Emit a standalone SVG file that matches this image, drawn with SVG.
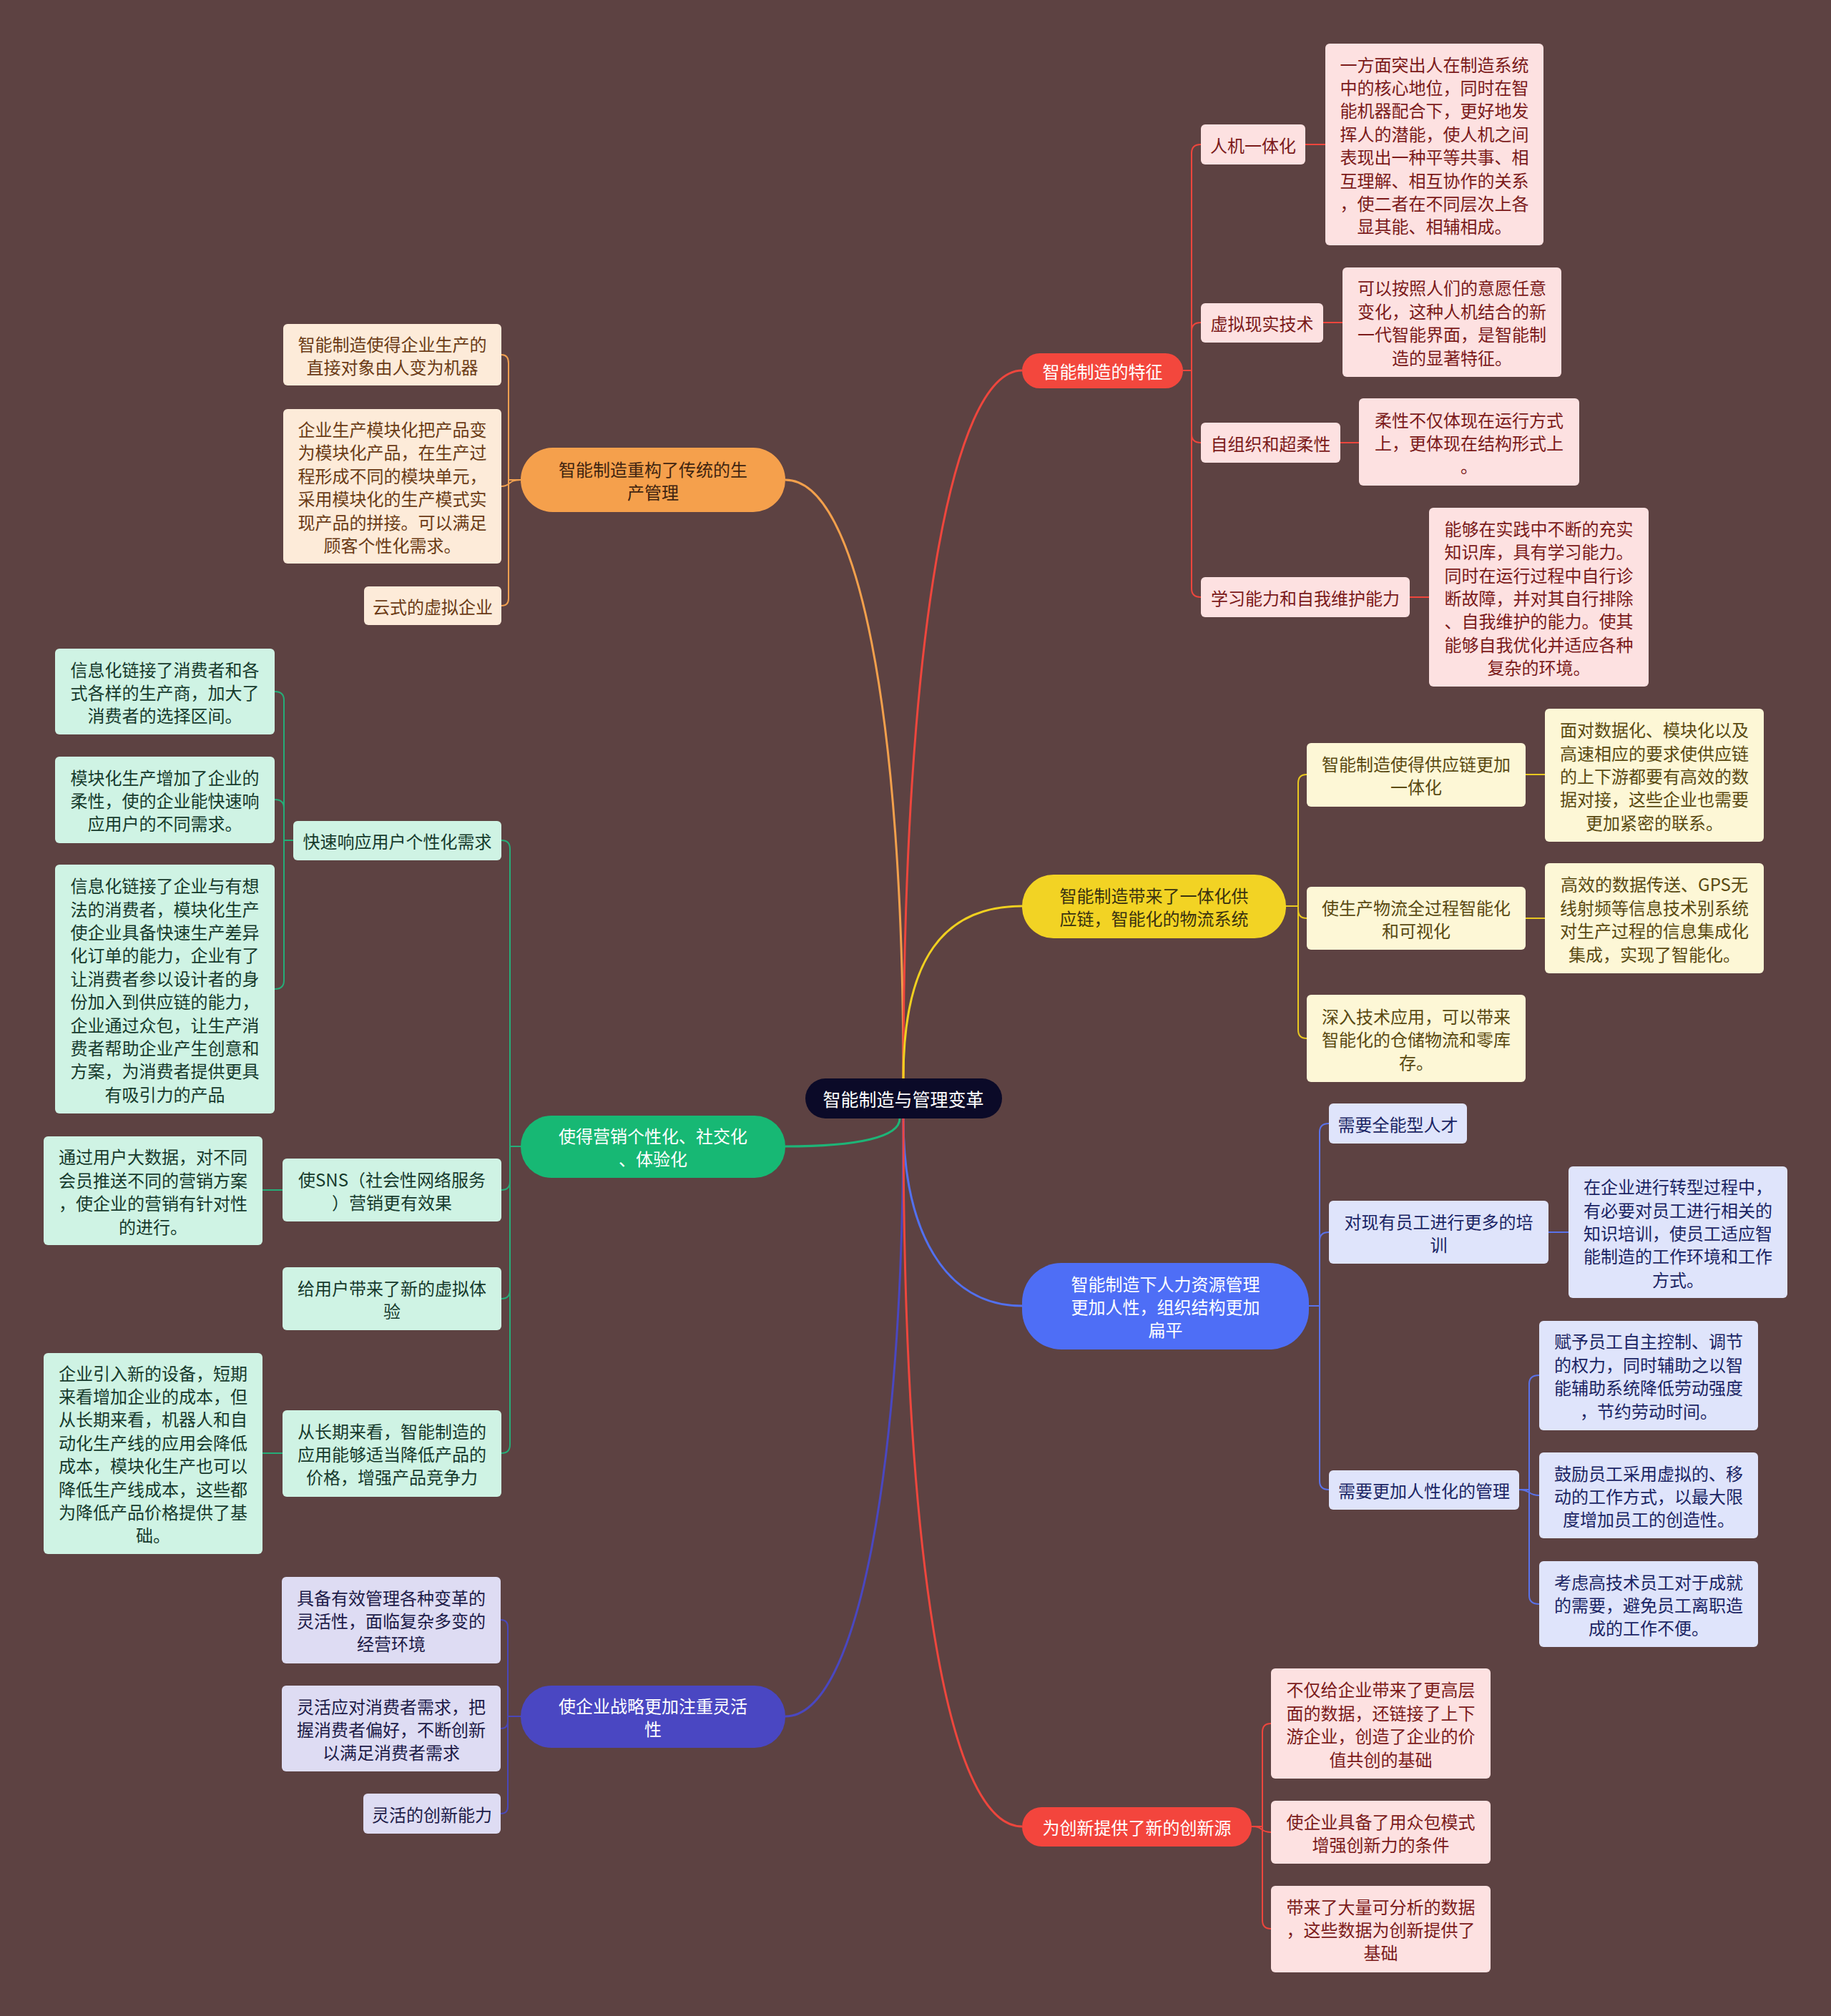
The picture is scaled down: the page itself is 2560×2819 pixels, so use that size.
<svg xmlns="http://www.w3.org/2000/svg" width="2560" height="2819" viewBox="0 0 2560 2819">
<style>
text{font-family:"Noto Sans CJK SC","Noto Sans",sans-serif;font-size:24px;text-anchor:middle;dominant-baseline:central}
.ln{fill:none;stroke-width:2}
.main{fill:none;stroke-width:3}
.w{fill:#ffffff}
.or{fill:#fdebd9}.ort{fill:#6b3b16}
.rd{fill:#fde1e1}.rdt{fill:#7b1a1a}
.ye{fill:#fdf7d6}.yet{fill:#5a4a12}
.gr{fill:#cff3e4}.grt{fill:#163a2c}
.bl{fill:#dfe4fb}.blt{fill:#1b2564}
.pu{fill:#dedcf3}.put{fill:#1d1b48}
</style>
<rect x="0" y="0" width="2560" height="2819" fill="#5d4242"/>
<g id="connectors">
<path class="main" stroke="#f3a04c" d="M1098,671 C1200,671 1263,1000 1263,1508"/>
<path class="main" stroke="#ee463d" d="M1263,1508 C1263,900 1330,518 1429,518"/>
<path class="main" stroke="#f0d020" d="M1263,1508 C1263,1340 1320,1267 1429,1267"/>
<path class="main" stroke="#1db577" d="M1098,1603 C1200,1603 1258,1590 1258,1564"/>
<path class="main" stroke="#5270f0" d="M1263,1564 C1263,1720 1320,1826 1429,1826"/>
<path class="main" stroke="#4a47c0" d="M1098,2400 C1200,2400 1263,2050 1263,1564"/>
<path class="main" stroke="#ee463d" d="M1263,1564 C1263,2150 1320,2554 1429,2554"/>
<g stroke="#ee463d">
<path class="ln" d="M1654,518 H1666 V214 Q1666,202 1679,202"/>
<path class="ln" d="M1654,518 H1666 V463 Q1666,451 1679,451"/>
<path class="ln" d="M1654,518 H1666 V607 Q1666,619 1679,619"/>
<path class="ln" d="M1654,518 H1666 V823 Q1666,835 1679,835"/>
<path class="ln" d="M1825,202 H1853 M1850,451 H1877 M1874,619 H1900 M1971,835 H1998"/>
<path class="ln" d="M1750,2554 H1765 V2422 Q1765,2410 1777,2410"/>
<path class="ln" d="M1750,2554 C1768,2554 1760,2562 1777,2562"/>
<path class="ln" d="M1750,2554 H1765 V2685 Q1765,2697 1777,2697"/>
</g>
<g stroke="#e8c820">
<path class="ln" d="M1798,1267 H1815 V1095 Q1815,1083 1827,1083"/>
<path class="ln" d="M1798,1267 H1815 V1272 Q1815,1284 1827,1284"/>
<path class="ln" d="M1798,1267 H1815 V1440 Q1815,1452 1827,1452"/>
<path class="ln" d="M2133,1083 H2160 M2133,1284 H2160"/>
</g>
<g stroke="#5a72ea">
<path class="ln" d="M1830,1826 H1845 V1583 Q1845,1571 1858,1571"/>
<path class="ln" d="M1830,1826 H1845 V1735 Q1845,1723 1858,1723"/>
<path class="ln" d="M1830,1826 H1845 V2071 Q1845,2083 1858,2083"/>
<path class="ln" d="M2165,1723 H2193"/>
<path class="ln" d="M2124,2083 H2138 V1935 Q2138,1923 2152,1923"/>
<path class="ln" d="M2124,2083 C2140,2083 2136,2091 2152,2091"/>
<path class="ln" d="M2124,2083 H2138 V2231 Q2138,2243 2152,2243"/>
</g>
<g stroke="#f0a050">
<path class="ln" d="M728,671 H711 V508 Q711,496 701,496"/>
<path class="ln" d="M728,671 C709,671 715,680 701,680"/>
<path class="ln" d="M728,671 H711 V837 Q711,847 701,847"/>
</g>
<g stroke="#25ad78">
<path class="ln" d="M728,1603 H713 V1187 Q713,1175 701,1175"/>
<path class="ln" d="M728,1603 H713 V1652 Q713,1664 701,1664"/>
<path class="ln" d="M728,1603 H713 V1804 Q713,1816 701,1816"/>
<path class="ln" d="M728,1603 H713 V2020 Q713,2032 701,2032"/>
<path class="ln" d="M410,1175 H397 V979 Q397,967 384,967"/>
<path class="ln" d="M410,1175 H397 V1130 Q397,1118 384,1118"/>
<path class="ln" d="M410,1175 H397 V1371 Q397,1383 384,1383"/>
<path class="ln" d="M395,1664 H367 M395,2032 H367"/>
</g>
<g stroke="#4a47b8">
<path class="ln" d="M728,2400 H710 V2275 Q710,2265 700,2265"/>
<path class="ln" d="M728,2400 H710 V2407 Q710,2417 700,2417"/>
<path class="ln" d="M728,2400 H710 V2526 Q710,2536 700,2536"/>
</g>
</g>

<g id="root">
<rect x="1126" y="1508" width="275" height="56" rx="28" fill="#0b0a28"/>
<text x="1263" y="1536" class="w" style="font-size:25px">智能制造与管理变革</text>
</g>

<!-- Left branch A -->
<g id="nA">
<rect x="728" y="626" width="370" height="90" rx="45" fill="#f5a04c"/>
<text class="" fill="#3f2410" x="913" y="654.8"><tspan x="913">智能制造重构了传统的生</tspan><tspan x="913" dy="32.4">产管理</tspan></text>
</g>
<g id="nA1">
<rect class="or" x="396" y="453" width="305" height="86" rx="6"/>
<text class="ort" x="548.5" y="479.8"><tspan x="548.5">智能制造使得企业生产的</tspan><tspan x="548.5" dy="32.4">直接对象由人变为机器</tspan></text>
</g>
<g id="nA2">
<rect class="or" x="396" y="572" width="305" height="216" rx="6"/>
<text class="ort" x="548.5" y="599"><tspan x="548.5">企业生产模块化把产品变</tspan><tspan x="548.5" dy="32.4">为模块化产品，在生产过</tspan><tspan x="548.5" dy="32.4">程形成不同的模块单元，</tspan><tspan x="548.5" dy="32.4">采用模块化的生产模式实</tspan><tspan x="548.5" dy="32.4">现产品的拼接。可以满足</tspan><tspan x="548.5" dy="32.4">顾客个性化需求。</tspan></text>
</g>
<g id="nA3">
<rect class="or" x="509" y="820" width="192" height="54" rx="6"/>
<text class="ort" x="605" y="847">云式的虚拟企业</text>
</g>

<!-- Left branch C -->
<g id="nC">
<rect x="728" y="1560" width="370" height="87" rx="43" fill="#17b874"/>
<text class="w" x="913" y="1586.8"><tspan x="913">使得营销个性化、社交化</tspan><tspan x="913" dy="32.4">、体验化</tspan></text>
</g>
<g id="nC1">
<rect class="gr" x="410" y="1148" width="291" height="55" rx="6"/>
<text class="grt" x="555.5" y="1175">快速响应用户个性化需求</text>
</g>
<g id="nC1a">
<rect class="gr" x="77" y="907" width="307" height="120" rx="6"/>
<text class="grt" x="230.5" y="934.6"><tspan x="230.5">信息化链接了消费者和各</tspan><tspan x="230.5" dy="32.4">式各样的生产商，加大了</tspan><tspan x="230.5" dy="32.4">消费者的选择区间。</tspan></text>
</g>
<g id="nC1b">
<rect class="gr" x="77" y="1058" width="307" height="121" rx="6"/>
<text class="grt" x="230.5" y="1085.6"><tspan x="230.5">模块化生产增加了企业的</tspan><tspan x="230.5" dy="32.4">柔性，使的企业能快速响</tspan><tspan x="230.5" dy="32.4">应用户的不同需求。</tspan></text>
</g>
<g id="nC1c">
<rect class="gr" x="77" y="1209" width="307" height="348" rx="6"/>
<text class="grt" x="230.5" y="1237.2"><tspan x="230.5">信息化链接了企业与有想</tspan><tspan x="230.5" dy="32.4">法的消费者，模块化生产</tspan><tspan x="230.5" dy="32.4">使企业具备快速生产差异</tspan><tspan x="230.5" dy="32.4">化订单的能力，企业有了</tspan><tspan x="230.5" dy="32.4">让消费者参以设计者的身</tspan><tspan x="230.5" dy="32.4">份加入到供应链的能力，</tspan><tspan x="230.5" dy="32.4">企业通过众包，让生产消</tspan><tspan x="230.5" dy="32.4">费者帮助企业产生创意和</tspan><tspan x="230.5" dy="32.4">方案，为消费者提供更具</tspan><tspan x="230.5" dy="32.4">有吸引力的产品</tspan></text>
</g>
<g id="nC2">
<rect class="gr" x="395" y="1620" width="306" height="88" rx="6"/>
<text class="grt" x="548" y="1647.8"><tspan x="548">使SNS（社会性网络服务</tspan><tspan x="548" dy="32.4">）营销更有效果</tspan></text>
</g>
<g id="nC2a">
<rect class="gr" x="61" y="1589" width="306" height="152" rx="6"/>
<text class="grt" x="214" y="1616.4"><tspan x="214">通过用户大数据，对不同</tspan><tspan x="214" dy="32.4">会员推送不同的营销方案</tspan><tspan x="214" dy="32.4">，使企业的营销有针对性</tspan><tspan x="214" dy="32.4">的进行。</tspan></text>
</g>
<g id="nC3">
<rect class="gr" x="395" y="1772" width="306" height="88" rx="6"/>
<text class="grt" x="548" y="1799.8"><tspan x="548">给用户带来了新的虚拟体</tspan><tspan x="548" dy="32.4">验</tspan></text>
</g>
<g id="nC4">
<rect class="gr" x="395" y="1972" width="306" height="121" rx="6"/>
<text class="grt" x="548" y="1999.6"><tspan x="548">从长期来看，智能制造的</tspan><tspan x="548" dy="32.4">应用能够适当降低产品的</tspan><tspan x="548" dy="32.4">价格，增强产品竞争力</tspan></text>
</g>
<g id="nC4a">
<rect class="gr" x="61" y="1892" width="306" height="281" rx="6"/>
<text class="grt" x="214" y="1918.6"><tspan x="214">企业引入新的设备，短期</tspan><tspan x="214" dy="32.4">来看增加企业的成本，但</tspan><tspan x="214" dy="32.4">从长期来看，机器人和自</tspan><tspan x="214" dy="32.4">动化生产线的应用会降低</tspan><tspan x="214" dy="32.4">成本，模块化生产也可以</tspan><tspan x="214" dy="32.4">降低生产线成本，这些都</tspan><tspan x="214" dy="32.4">为降低产品价格提供了基</tspan><tspan x="214" dy="32.4">础。</tspan></text>
</g>

<!-- Left branch D -->
<g id="nD">
<rect x="728" y="2357" width="370" height="87" rx="43" fill="#4a47c2"/>
<text class="w" x="913" y="2383.8"><tspan x="913">使企业战略更加注重灵活</tspan><tspan x="913" dy="32.4">性</tspan></text>
</g>
<g id="nD1">
<rect class="pu" x="394" y="2205" width="306" height="121" rx="6"/>
<text class="put" x="547" y="2232.6"><tspan x="547">具备有效管理各种变革的</tspan><tspan x="547" dy="32.4">灵活性，面临复杂多变的</tspan><tspan x="547" dy="32.4">经营环境</tspan></text>
</g>
<g id="nD2">
<rect class="pu" x="394" y="2357" width="306" height="120" rx="6"/>
<text class="put" x="547" y="2384.6"><tspan x="547">灵活应对消费者需求，把</tspan><tspan x="547" dy="32.4">握消费者偏好，不断创新</tspan><tspan x="547" dy="32.4">以满足消费者需求</tspan></text>
</g>
<g id="nD3">
<rect class="pu" x="508" y="2508" width="192" height="56" rx="6"/>
<text class="put" x="604" y="2536">灵活的创新能力</text>
</g>

<!-- Right branch B1 -->
<g id="nB1">
<rect x="1429" y="494" width="225" height="49" rx="24.5" fill="#f3473d"/>
<text class="w" x="1541.5" y="518">智能制造的特征</text>
</g>
<g id="nB1a">
<rect class="rd" x="1679" y="174" width="146" height="56" rx="6"/>
<text class="rdt" x="1752" y="202">人机一体化</text>
</g>
<g id="nB1a1">
<rect class="rd" x="1853" y="61" width="305" height="282" rx="6"/>
<text class="rdt" x="2005.5" y="88.6"><tspan x="2005.5">一方面突出人在制造系统</tspan><tspan x="2005.5" dy="32.4">中的核心地位，同时在智</tspan><tspan x="2005.5" dy="32.4">能机器配合下，更好地发</tspan><tspan x="2005.5" dy="32.4">挥人的潜能，使人机之间</tspan><tspan x="2005.5" dy="32.4">表现出一种平等共事、相</tspan><tspan x="2005.5" dy="32.4">互理解、相互协作的关系</tspan><tspan x="2005.5" dy="32.4">，使二者在不同层次上各</tspan><tspan x="2005.5" dy="32.4">显其能、相辅相成。</tspan></text>
</g>
<g id="nB1b">
<rect class="rd" x="1679" y="424" width="171" height="55" rx="6"/>
<text class="rdt" x="1764.5" y="451">虚拟现实技术</text>
</g>
<g id="nB1b1">
<rect class="rd" x="1877" y="374" width="306" height="153" rx="6"/>
<text class="rdt" x="2030" y="401.4"><tspan x="2030">可以按照人们的意愿任意</tspan><tspan x="2030" dy="32.4">变化，这种人机结合的新</tspan><tspan x="2030" dy="32.4">一代智能界面，是智能制</tspan><tspan x="2030" dy="32.4">造的显著特征。</tspan></text>
</g>
<g id="nB1c">
<rect class="rd" x="1679" y="591" width="195" height="56" rx="6"/>
<text class="rdt" x="1776.5" y="619">自组织和超柔性</text>
</g>
<g id="nB1c1">
<rect class="rd" x="1900" y="557" width="308" height="122" rx="6"/>
<text class="rdt" x="2054" y="585.6"><tspan x="2054">柔性不仅体现在运行方式</tspan><tspan x="2054" dy="32.4">上，更体现在结构形式上</tspan><tspan x="2054" dy="32.4">。</tspan></text>
</g>
<g id="nB1d">
<rect class="rd" x="1679" y="807" width="292" height="56" rx="6"/>
<text class="rdt" x="1825" y="835">学习能力和自我维护能力</text>
</g>
<g id="nB1d1">
<rect class="rd" x="1998" y="710" width="307" height="250" rx="6"/>
<text class="rdt" x="2151.5" y="737.8"><tspan x="2151.5">能够在实践中不断的充实</tspan><tspan x="2151.5" dy="32.4">知识库，具有学习能力。</tspan><tspan x="2151.5" dy="32.4">同时在运行过程中自行诊</tspan><tspan x="2151.5" dy="32.4">断故障，并对其自行排除</tspan><tspan x="2151.5" dy="32.4">、自我维护的能力。使其</tspan><tspan x="2151.5" dy="32.4">能够自我优化并适应各种</tspan><tspan x="2151.5" dy="32.4">复杂的环境。</tspan></text>
</g>

<!-- Right branch B2 -->
<g id="nB2">
<rect x="1429" y="1223" width="369" height="89" rx="44" fill="#f2d324"/>
<text fill="#3a3210" x="1613.5" y="1250.8"><tspan x="1613.5">智能制造带来了一体化供</tspan><tspan x="1613.5" dy="32.4">应链，智能化的物流系统</tspan></text>
</g>
<g id="nB2a">
<rect class="ye" x="1827" y="1039" width="306" height="89" rx="6"/>
<text class="yet" x="1980" y="1066.8"><tspan x="1980">智能制造使得供应链更加</tspan><tspan x="1980" dy="32.4">一体化</tspan></text>
</g>
<g id="nB2a1">
<rect class="ye" x="2160" y="991" width="306" height="186" rx="6"/>
<text class="yet" x="2313" y="1019.2"><tspan x="2313">面对数据化、模块化以及</tspan><tspan x="2313" dy="32.4">高速相应的要求使供应链</tspan><tspan x="2313" dy="32.4">的上下游都要有高效的数</tspan><tspan x="2313" dy="32.4">据对接，这些企业也需要</tspan><tspan x="2313" dy="32.4">更加紧密的联系。</tspan></text>
</g>
<g id="nB2b">
<rect class="ye" x="1827" y="1240" width="306" height="88" rx="6"/>
<text class="yet" x="1980" y="1267.8"><tspan x="1980">使生产物流全过程智能化</tspan><tspan x="1980" dy="32.4">和可视化</tspan></text>
</g>
<g id="nB2b1">
<rect class="ye" x="2160" y="1207" width="306" height="154" rx="6"/>
<text class="yet" x="2313" y="1235.4"><tspan x="2313">高效的数据传送、GPS无</tspan><tspan x="2313" dy="32.4">线射频等信息技术别系统</tspan><tspan x="2313" dy="32.4">对生产过程的信息集成化</tspan><tspan x="2313" dy="32.4">集成，实现了智能化。</tspan></text>
</g>
<g id="nB2c">
<rect class="ye" x="1827" y="1391" width="306" height="122" rx="6"/>
<text class="yet" x="1980" y="1419.6"><tspan x="1980">深入技术应用，可以带来</tspan><tspan x="1980" dy="32.4">智能化的仓储物流和零库</tspan><tspan x="1980" dy="32.4">存。</tspan></text>
</g>

<!-- Right branch B3 -->
<g id="nB3">
<rect x="1429" y="1766" width="401" height="121" rx="55" fill="#4e6ef6"/>
<text class="w" x="1629.5" y="1793.6"><tspan x="1629.5">智能制造下人力资源管理</tspan><tspan x="1629.5" dy="32.4">更加人性，组织结构更加</tspan><tspan x="1629.5" dy="32.4">扁平</tspan></text>
</g>
<g id="nB3a">
<rect class="bl" x="1858" y="1543" width="193" height="56" rx="6"/>
<text class="blt" x="1954.5" y="1571">需要全能型人才</text>
</g>
<g id="nB3b">
<rect class="bl" x="1858" y="1679" width="307" height="88" rx="6"/>
<text class="blt" x="2011.5" y="1706.8"><tspan x="2011.5">对现有员工进行更多的培</tspan><tspan x="2011.5" dy="32.4">训</tspan></text>
</g>
<g id="nB3b1">
<rect class="bl" x="2193" y="1631" width="306" height="184" rx="6"/>
<text class="blt" x="2346" y="1658.2"><tspan x="2346">在企业进行转型过程中，</tspan><tspan x="2346" dy="32.4">有必要对员工进行相关的</tspan><tspan x="2346" dy="32.4">知识培训，使员工适应智</tspan><tspan x="2346" dy="32.4">能制造的工作环境和工作</tspan><tspan x="2346" dy="32.4">方式。</tspan></text>
</g>
<g id="nB3c">
<rect class="bl" x="1858" y="2056" width="266" height="55" rx="6"/>
<text class="blt" x="1991" y="2083">需要更加人性化的管理</text>
</g>
<g id="nB3c1">
<rect class="bl" x="2152" y="1847" width="306" height="153" rx="6"/>
<text class="blt" x="2305" y="1874.4"><tspan x="2305">赋予员工自主控制、调节</tspan><tspan x="2305" dy="32.4">的权力，同时辅助之以智</tspan><tspan x="2305" dy="32.4">能辅助系统降低劳动强度</tspan><tspan x="2305" dy="32.4">，节约劳动时间。</tspan></text>
</g>
<g id="nB3c2">
<rect class="bl" x="2152" y="2031" width="306" height="120" rx="6"/>
<text class="blt" x="2305" y="2058.6"><tspan x="2305">鼓励员工采用虚拟的、移</tspan><tspan x="2305" dy="32.4">动的工作方式，以最大限</tspan><tspan x="2305" dy="32.4">度增加员工的创造性。</tspan></text>
</g>
<g id="nB3c3">
<rect class="bl" x="2152" y="2183" width="306" height="120" rx="6"/>
<text class="blt" x="2305" y="2210.6"><tspan x="2305">考虑高技术员工对于成就</tspan><tspan x="2305" dy="32.4">的需要，避免员工离职造</tspan><tspan x="2305" dy="32.4">成的工作不便。</tspan></text>
</g>

<!-- Right branch B4 -->
<g id="nB4">
<rect x="1429" y="2527" width="321" height="55" rx="27.5" fill="#f3453d"/>
<text class="w" x="1589.5" y="2554">为创新提供了新的创新源</text>
</g>
<g id="nB4a">
<rect class="rd" x="1777" y="2333" width="307" height="154" rx="6"/>
<text class="rdt" x="1930.5" y="2361.4"><tspan x="1930.5">不仅给企业带来了更高层</tspan><tspan x="1930.5" dy="32.4">面的数据，还链接了上下</tspan><tspan x="1930.5" dy="32.4">游企业，创造了企业的价</tspan><tspan x="1930.5" dy="32.4">值共创的基础</tspan></text>
</g>
<g id="nB4b">
<rect class="rd" x="1777" y="2518" width="307" height="88" rx="6"/>
<text class="rdt" x="1930.5" y="2545.8"><tspan x="1930.5">使企业具备了用众包模式</tspan><tspan x="1930.5" dy="32.4">增强创新力的条件</tspan></text>
</g>
<g id="nB4c">
<rect class="rd" x="1777" y="2637" width="307" height="121" rx="6"/>
<text class="rdt" x="1930.5" y="2664.6"><tspan x="1930.5">带来了大量可分析的数据</tspan><tspan x="1930.5" dy="32.4">，这些数据为创新提供了</tspan><tspan x="1930.5" dy="32.4">基础</tspan></text>
</g>
</svg>
